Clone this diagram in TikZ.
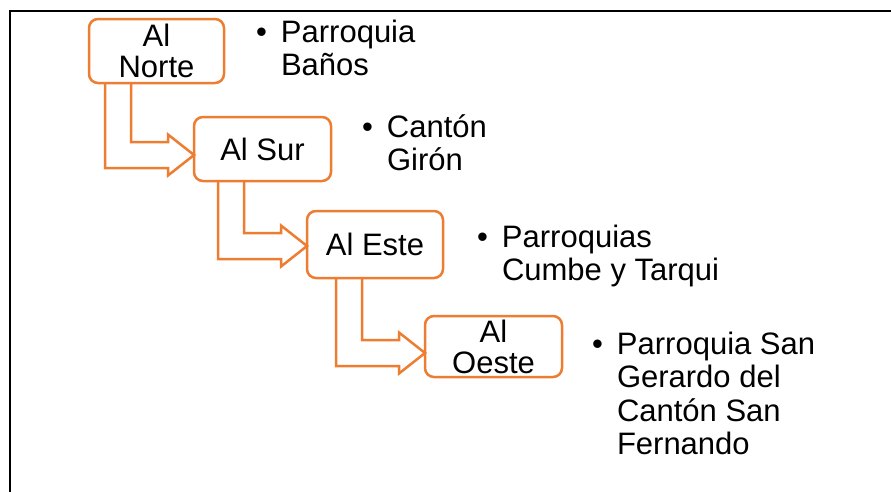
\documentclass[tikz,border=0pt]{standalone}
\usepackage{fontspec}
\setmainfont{Liberation Sans}
\usetikzlibrary{calc}
\definecolor{accent}{HTML}{ED7D31}
\tikzset{
  stage/.style={draw=accent, line width=2.5pt, fill=white, rounded corners=9pt,
    inner sep=0pt, outer sep=0pt, align=center, font=\fontsize{31}{31}\selectfont},
  elbow/.style={draw=accent, line width=2.5pt, line join=miter},
  item/.style={anchor=base west, inner sep=0pt, outer sep=0pt,
    font=\fontsize{31}{33.5}\selectfont},
  framing/.style={draw=black, line width=2pt}
}
% bulleted block of text, the first line's baseline is the node's base
\newcommand\bulleted[1]{\makebox[0pt][r]{\textbullet\hspace{14pt}}\parbox[t]{260pt}{\raggedright #1}}
% bent block arrow from the bottom of #1 to the left side of #2, tip shifted by #3
\newcommand\elbowarrow[3]{%
  \draw[elbow] let \p1=($(#2.west)+(0,#3)$), \p2=(#1.south) in
    (\x1-63,\y2) -- (\x1-63,\y1+13) -- (\x1-26,\y1+13) -- (\x1-26,\y1+20.5)
    -- (\p1) -- (\x1-26,\y1-20.5) -- (\x1-26,\y1-13) -- (\x1-89,\y1-13)
    -- (\x1-89,\y2);}
\begin{document}
\begin{tikzpicture}[x=1pt,y=-1pt]
\useasboundingbox (0,0) rectangle (891,491);
\fill[white] (0,0) rectangle (891,491);
% frame lines
\draw[framing] (892,11) -- (9.5,11) -- (9.5,492);

% stages
\node[stage, minimum width=135pt, minimum height=64pt] (norte) at (156.5,51) {Al\\Norte};
\node[stage, minimum width=137pt, minimum height=64pt] (sur) at (262.5,149) {Al Sur};
\node[stage, minimum width=136pt, minimum height=67pt] (este) at (375,244.5) {Al Este};
\node[stage, minimum width=137pt, minimum height=61pt] (oeste) at (493.5,346.5) {Al\\Oeste};

% connectors
\elbowarrow{norte}{sur}{6}
\elbowarrow{sur}{este}{1.5}
\elbowarrow{este}{oeste}{6.5}

% descriptions
\node[item] (d1) at (281,42) {\bulleted{Parroquia\\Baños}};
\node[item] (d2) at (387,137) {\bulleted{Cantón\\Girón}};
\node[item] (d3) at (502,247) {\bulleted{Parroquias\\Cumbe y Tarqui}};
\node[item] (d4) at (617,354) {\bulleted{Parroquia San\\Gerardo del\\Cantón San\\Fernando}};
\end{tikzpicture}
\end{document}
